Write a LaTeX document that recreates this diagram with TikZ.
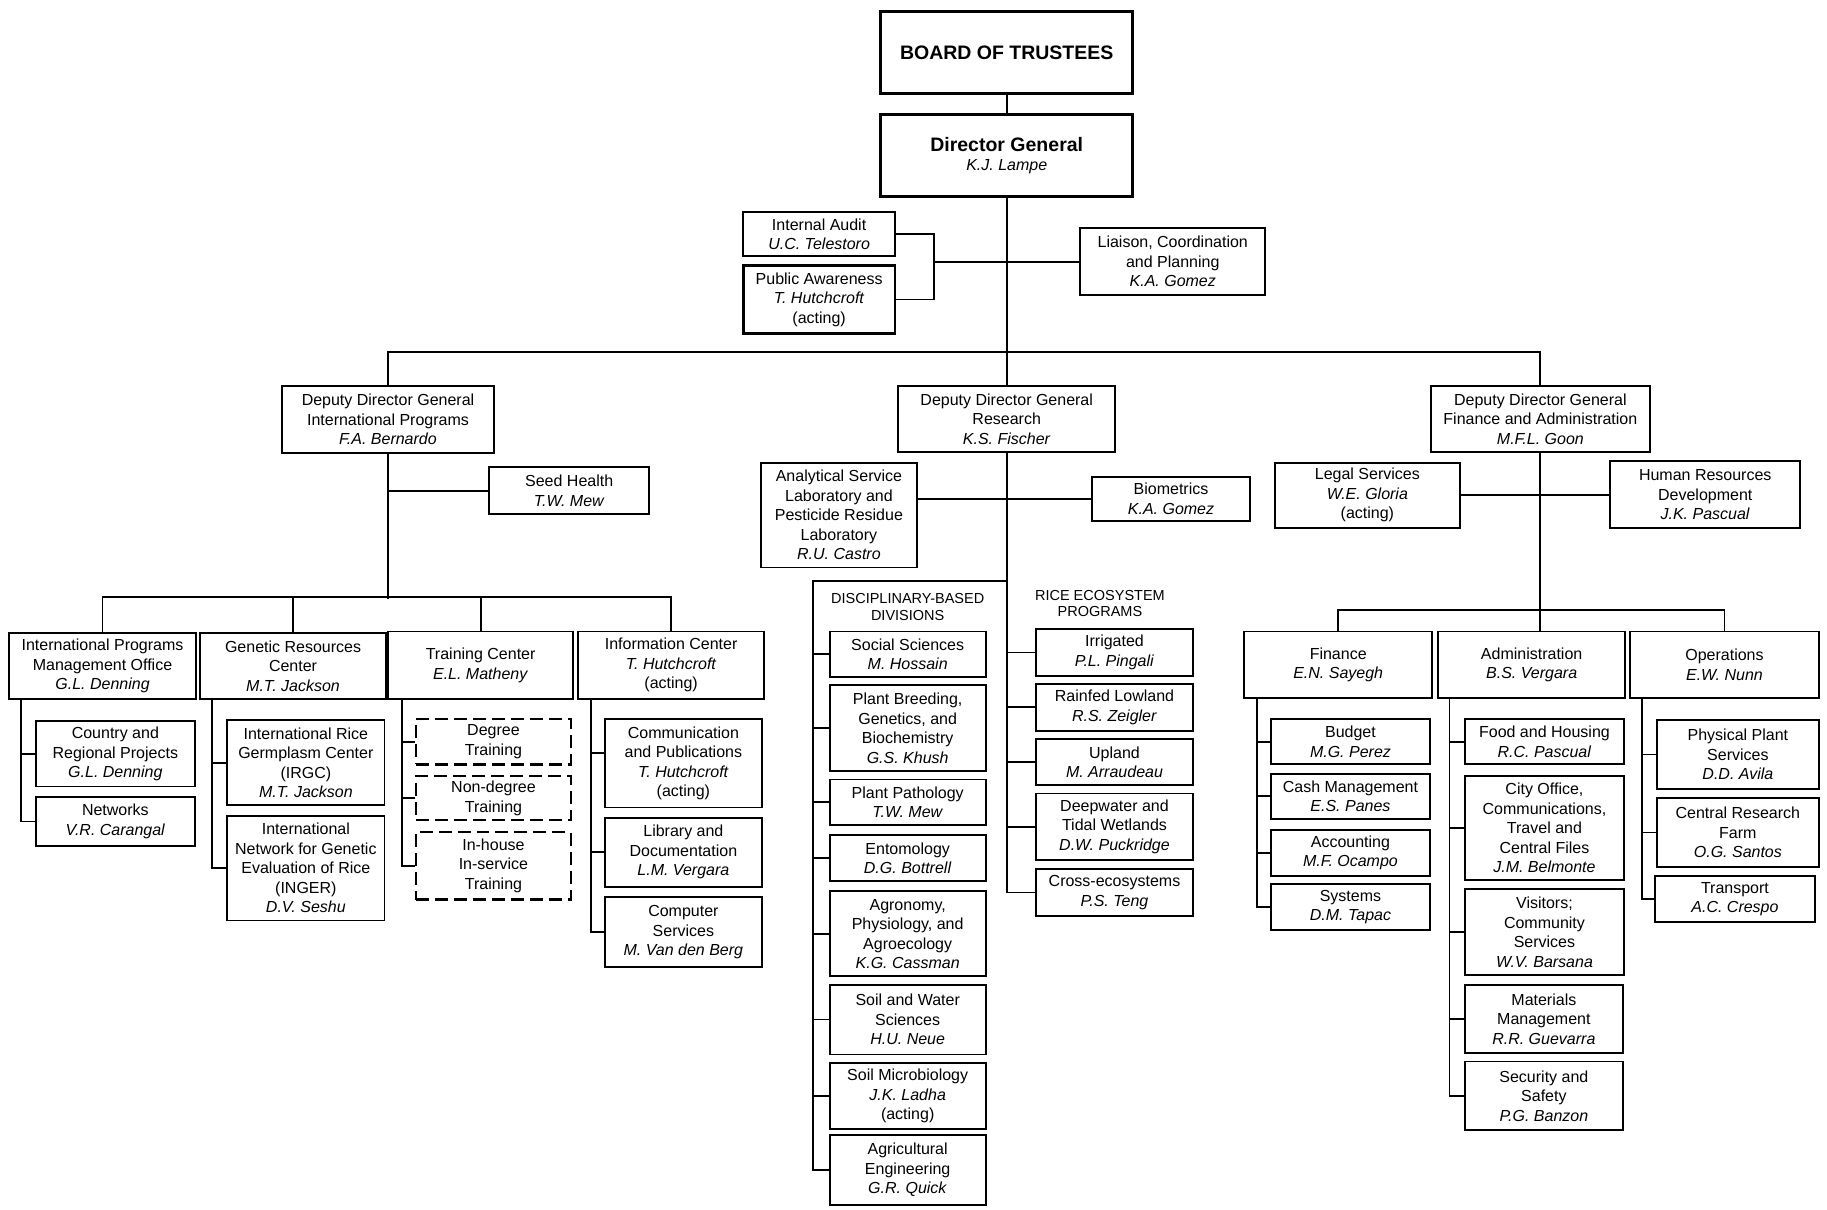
\documentclass[tikz,border=0pt]{standalone}
\usepackage{fontspec}
\setmainfont{Liberation Sans}
\newcommand\nm[1]{\textit{#1}}
\newcommand\bx[7][]{\node[box,#1,minimum width={(#5-#3)*1.1652pt},minimum height={(#6-#4)*1.1652pt}] (#2) at ({(#3+#5)/2},{(#4+#6)/2}) {#7};}
\begin{document}
\begin{tikzpicture}[x=1.1652pt,y=-1.1652pt,
  box/.style={draw,line width=1.9pt,inner sep=1pt,align=center,font=\fontsize{16}{19.5}\selectfont},
  topbox/.style={line width=3pt},
  dashbox/.style={line width=2.4pt,dash pattern=on 13pt off 6pt},
  ln/.style={line width=1.9pt},
  lbl/.style={align=center,inner sep=0pt,font=\fontsize{14.5}{16.5}\selectfont}]
\fill[white] (0,0) rectangle (1568,1038);
\useasboundingbox (0,0) rectangle (1568,1038);
% top
\bx[topbox]{board}{756}{10}{972}{80}{\textbf{\fontsize{19.5}{23}\selectfont BOARD OF TRUSTEES}}
\bx[topbox]{dg}{756}{98}{972}{169}{\textbf{\fontsize{19.5}{21}\selectfont Director General}\\\nm{K.J. Lampe}}
\bx{ia}{638}{182}{768}{220}{Internal Audit\\\nm{U.C. Telestoro}}
\bx[line width=2.7pt]{pa}{638}{228}{768}{286}{Public Awareness\\\nm{T. Hutchcroft}\\(acting)}
\bx{lcp}{927}{196}{1086}{253}{Liaison, Coordination\\and Planning\\\nm{K.A. Gomez}}
% level 2
\bx{ddgip}{242}{331}{424}{389}{Deputy Director General\\International Programs\\\nm{F.A. Bernardo}}
\bx{ddgr}{771}{331}{957}{388}{Deputy Director General\\Research\\\nm{K.S. Fischer}}
\bx{ddgfa}{1228}{331}{1416}{388}{Deputy Director General\\Finance and Administration\\\nm{M.F.L. Goon}}
% international programs
\bx{seed}{420}{401}{557}{441}{Seed Health\\\nm{T.W. Mew}}
\bx{ipmo}{8}{543}{168}{600}{International Programs\\Management Office\\\nm{G.L. Denning}}
\bx{grc}{172}{543}{331}{600}{Genetic Resources\\Center\\\nm{M.T. Jackson}}
\bx{tc}{333}{542}{492}{600}{Training Center\\\nm{E.L. Matheny}}
\bx{ic}{496}{542}{656}{600}{Information Center\\\nm{T. Hutchcroft}\\(acting)}
\bx{crp}{31}{619}{167}{675}{Country and\\Regional Projects\\\nm{G.L. Denning}}
\bx{net}{31}{684}{167}{726}{Networks\\\nm{V.R. Carangal}}
\bx{irgc}{195}{618}{330}{691}{International Rice\\Germplasm Center\\(IRGC)\\\nm{M.T. Jackson}}
\bx{inger}{195}{700}{330}{790}{International\\Network for Genetic\\Evaluation of Rice\\(INGER)\\\nm{D.V. Seshu}}
\bx[dashbox]{deg}{357}{617}{490}{656}{Degree\\Training}
\bx[dashbox]{ndeg}{357}{666}{490}{704}{Non-degree\\Training}
\bx[dashbox]{inh}{357}{714}{490}{772}{In-house\\In-service\\Training}
\bx{comm}{519}{617}{654}{693}{Communication\\and Publications\\\nm{T. Hutchcroft}\\(acting)}
\bx{lib}{519}{702}{654}{761}{Library and\\Documentation\\\nm{L.M. Vergara}}
\bx{comp}{519}{770}{654}{830}{Computer\\Services\\\nm{M. Van den Berg}}
% research
\bx{asl}{653}{397}{787}{487}{Analytical Service\\Laboratory and\\Pesticide Residue\\Laboratory\\\nm{R.U. Castro}}
\bx{bio}{937}{409}{1073}{447}{Biometrics\\\nm{K.A. Gomez}}
\node[lbl] (dislbl) at (779,521) {DISCIPLINARY-BASED\\DIVISIONS};
\node[lbl] (ricelbl) at (944,518) {RICE ECOSYSTEM\\PROGRAMS};
\bx{ss}{712}{542}{846}{581}{Social Sciences\\\nm{M. Hossain}}
\bx{pb}{712}{588}{846}{662}{Plant Breeding,\\Genetics, and\\Biochemistry\\\nm{G.S. Khush}}
\bx{pp}{712}{669}{846}{708}{Plant Pathology\\\nm{T.W. Mew}}
\bx{ent}{712}{717}{846}{756}{Entomology\\\nm{D.G. Bottrell}}
\bx{agr}{712}{765}{846}{838}{Agronomy,\\Physiology, and\\Agroecology\\\nm{K.G. Cassman}}
\bx{sw}{712}{845}{846}{905}{Soil and Water\\Sciences\\\nm{H.U. Neue}}
\bx{sm}{712}{912}{846}{969}{Soil Microbiology\\\nm{J.K. Ladha}\\(acting)}
\bx{ae}{712}{974}{846}{1034}{Agricultural\\Engineering\\\nm{G.R. Quick}}
\bx{irr}{889}{540}{1024}{580}{Irrigated\\\nm{P.L. Pingali}}
\bx{rl}{889}{587}{1024}{627}{Rainfed Lowland\\\nm{R.S. Zeigler}}
\bx{up}{889}{634}{1024}{674}{Upland\\\nm{M. Arraudeau}}
\bx{dw}{889}{681}{1024}{738}{Deepwater and\\Tidal Wetlands\\\nm{D.W. Puckridge}}
\bx{ce}{889}{746}{1024}{786}{Cross-ecosystems\\\nm{P.S. Teng}}
% finance and administration
\bx{legal}{1094}{397}{1253}{453}{Legal Services\\\nm{W.E. Gloria}\\(acting)}
\bx{hrd}{1382}{396}{1545}{453}{Human Resources\\Development\\\nm{J.K. Pascual}}
\bx{fin}{1068}{542}{1229}{599}{Finance\\\nm{E.N. Sayegh}}
\bx{adm}{1234}{542}{1395}{599}{Administration\\\nm{B.S. Vergara}}
\bx{ops}{1399}{542}{1561}{599}{Operations\\\nm{E.W. Nunn}}
\bx{bud}{1091}{617}{1227}{656}{Budget\\\nm{M.G. Perez}}
\bx{cash}{1091}{664}{1227}{703}{Cash Management\\\nm{E.S. Panes}}
\bx{acc}{1091}{712}{1227}{752}{Accounting\\\nm{M.F. Ocampo}}
\bx{sys}{1091}{759}{1227}{798}{Systems\\\nm{D.M. Tapac}}
\bx{food}{1257}{617}{1394}{656}{Food and Housing\\\nm{R.C. Pascual}}
\bx{city}{1257}{666}{1394}{755}{City Office,\\Communications,\\Travel and\\Central Files\\\nm{J.M. Belmonte}}
\bx{vis}{1257}{763}{1394}{837}{Visitors;\\Community\\Services\\\nm{W.V. Barsana}}
\bx{mat}{1257}{845}{1393}{904}{Materials\\Management\\\nm{R.R. Guevarra}}
\bx{sec}{1257}{911}{1393}{970}{Security and\\Safety\\\nm{P.G. Banzon}}
\bx{pps}{1422}{618}{1561}{677}{Physical Plant\\Services\\\nm{D.D. Avila}}
\bx{crf}{1422}{685}{1561}{744}{Central Research\\Farm\\\nm{O.G. Santos}}
\bx{tr}{1420}{752}{1558}{791}{Transport\\\nm{A.C. Crespo}}
% connectors: top
\draw[ln] (board) -- (dg);
\draw[ln] (dg) -- (ddgr);
\draw[ln] (ddgip.north) -- ++(0,-28) -| (ddgfa.north);
\draw[ln] (ia.east) -- ++(33,0) coordinate (brk) |- (pa.east);
\draw[ln] (lcp.west) -- (lcp.west -| brk);
% international programs
\draw[ln] (seed.west) -- (seed.west -| ddgip.south);
\draw[ln] (ddgip.south) -- ++(0,124);
\draw[ln] (ipmo.north) -- ++(0,-30) -| (ic.north);
\draw[ln] (grc.north) -- ++(0,-30);
\draw[ln] (tc.north) -- ++(0,-30);
\coordinate (t1) at (18,600);
\draw[ln] (t1) |- (net.west);
\draw[ln] (crp.west) -- (crp.west -| t1);
\coordinate (t2) at (182,600);
\draw[ln] (t2) |- (inger.west);
\draw[ln] (irgc.west) -- (irgc.west -| t2);
\coordinate (t3) at (345,600);
\draw[ln] (t3) |- (inh.west);
\draw[ln] (deg.west) -- (deg.west -| t3);
\draw[ln] (ndeg.west) -- (ndeg.west -| t3);
\coordinate (t4) at (507,600);
\draw[ln] (t4) |- (comp.west);
\draw[ln] ([yshift=10pt]comm.west) -- ([yshift=10pt]comm.west -| t4);
\draw[ln] (lib.west) -- (lib.west -| t4);
% research
\draw[ln] (bio.west) -- (bio.west -| asl.east);
\draw[ln] (ddgr.south) -- (ddgr.south |- ce.west) -- (ce.west);
\foreach \n in {irr,rl,up,dw} \draw[ln] (\n.west) -- (\n.west -| ddgr.south);
\coordinate (t5) at (698,499);
\draw[ln] (t5 -| ddgr.south) -- (t5) |- (ae.west);
\foreach \n in {ss,pb,pp,ent,agr,sw,sm} \draw[ln] (\n.west) -- (\n.west -| t5);
% finance and administration
\draw[ln] (ddgfa.south) -- (ddgfa.south |- adm.north);
\draw[ln] (legal.east) -- (legal.east -| hrd.west);
\draw[ln] (fin.north) -- ++(0,-18) -| (ops.north);
\coordinate (t6) at (1079,599);
\draw[ln] (t6) |- (sys.west);
\foreach \n in {bud,cash,acc} \draw[ln] (\n.west) -- (\n.west -| t6);
\coordinate (t7) at (1244,599);
\draw[ln] (t7) |- (sec.west);
\foreach \n in {food,city,vis,mat} \draw[ln] (\n.west) -- (\n.west -| t7);
\coordinate (t8) at (1409,599);
\draw[ln] (t8) |- (tr.west);
\foreach \n in {pps,crf} \draw[ln] (\n.west) -- (\n.west -| t8);
\end{tikzpicture}
\end{document}
